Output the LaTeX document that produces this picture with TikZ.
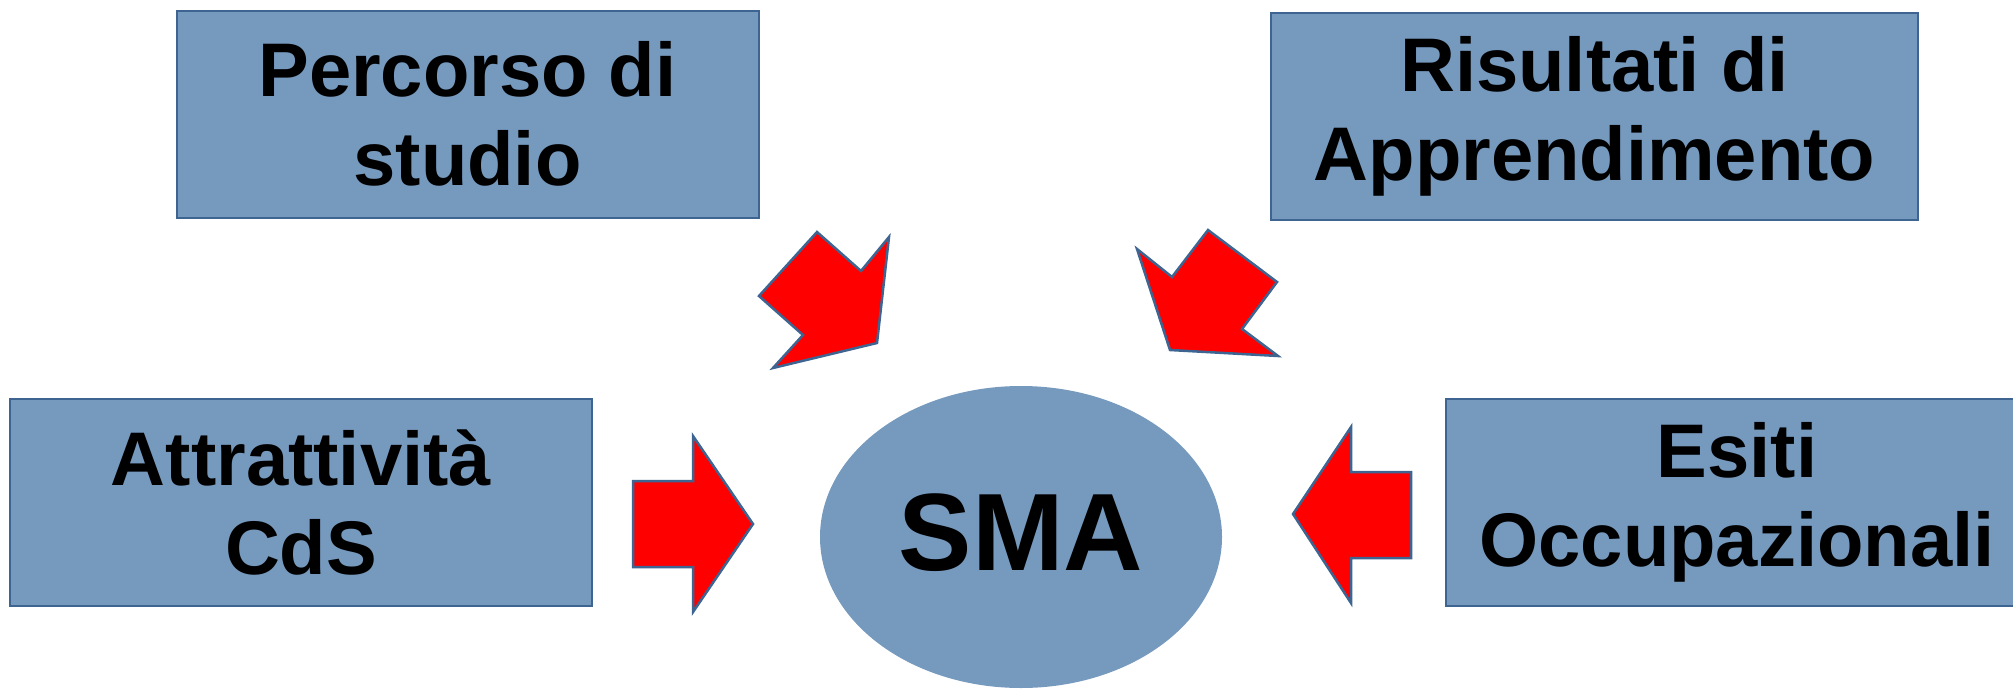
\documentclass[tikz,border=0pt]{standalone}
\usepackage{fontspec}
\setmainfont{Liberation Sans}
\usetikzlibrary{shapes.geometric}
\definecolor{boxfill}{RGB}{118,153,190}
\definecolor{boxline}{RGB}{62,100,145}
\definecolor{arrowred}{RGB}{255,0,0}

\begin{document}
\begin{tikzpicture}[x=1pt,y=-1pt,
  infobox/.style={draw=boxline,line width=2pt,fill=boxfill,
    minimum width=582pt,minimum height=207pt,align=center,
    font=\fontsize{76pt}{89pt}\selectfont\bfseries},
  blockarrow/.style={draw=boxline,line width=2.5pt,fill=arrowred,line join=miter}]
  \useasboundingbox (0,0) rectangle (2013,688);
  \clip (0,0) rectangle (2013,688);
        %top boxes
        \node[infobox] (percorso) at (467.5,114) {Percorso di\\studio};
        \node[infobox,minimum width=647pt] (risultati) at (1594.5,116) {Risultati di\\Apprendimento};
        %side boxes
        \node[infobox] (attrattivita) at (301,502.5) {Attrattività\\CdS};
        \node[infobox] (esiti) at (1737,502.5) {Esiti\\Occupazionali};
        %centre
        \node[ellipse,fill=boxfill,inner sep=0pt,minimum width=402pt,minimum height=302pt,
          text depth=10pt,font=\fontsize{110pt}{110pt}\selectfont\bfseries] (sma) at (1021,537) {SMA};

        %arrow from top left
        \draw[blockarrow] (759,296)--(817,232)--(861,271)--(889,237)
        --(877,343)--(773,368)--(803,335)--cycle;
        %arrow from top right
        \draw[blockarrow] (1137,249)--(1172,277)--(1208,230)--(1277,282)
        --(1242,329)--(1278,356)--(1170,350)--cycle;
        %arrow from left
        \draw[blockarrow] (633,481)--(693,481)--(693,436)--(753,524)
        --(693,612)--(693,567)--(633,567)--cycle;
        %arrow from right
        \draw[blockarrow] (1411,472)--(1351,472)--(1351,427)--(1293,514)
        --(1351,603)--(1351,558)--(1411,558)--cycle;
      \end{tikzpicture}
\end{document}
